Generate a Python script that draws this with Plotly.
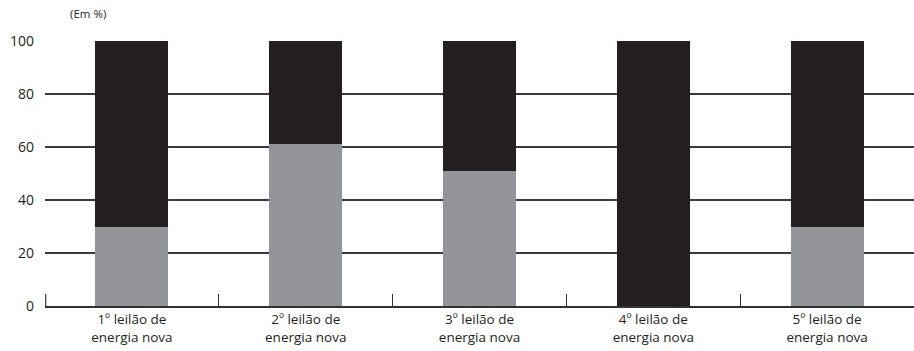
import plotly.graph_objects as go

categories = ["1º leilão de<br>energia nova", "2º leilão de<br>energia nova",
              "3º leilão de<br>energia nova", "4º leilão de<br>energia nova",
              "5º leilão de<br>energia nova"]
gray_vals = [30, 61, 51, 0, 30]
black_vals = [70, 39, 49, 100, 70]
y_ticks = [0, 20, 40, 60, 80, 100]

GRAY = "#939598"
BLACK = "#231f20"
TEXT = "#231f20"
FONT = "Open Sans"

fig = go.Figure()
fig.add_trace(go.Bar(x=categories, y=gray_vals, marker=dict(color=GRAY, line=dict(width=0)),
                     width=0.42, showlegend=False, hoverinfo="skip"))
fig.add_trace(go.Bar(x=categories, y=black_vals, marker=dict(color=BLACK, line=dict(width=0)),
                     width=0.42, showlegend=False, hoverinfo="skip"))

fig.update_layout(
    barmode="stack",
    width=914, height=351,
    margin=dict(l=45, r=0, t=41, b=45),
    plot_bgcolor="white", paper_bgcolor="white",
    font=dict(family=FONT, color=TEXT),
    xaxis=dict(
        range=[-0.5, 4.5], showgrid=False, showline=True, linecolor="#333333", linewidth=1.5,
        ticks="inside", ticklen=12, tickwidth=1.2, tickcolor="#333333", tickson="boundaries",
        tickfont=dict(size=13.5, family=FONT, color=TEXT), zeroline=False, fixedrange=True,
    ),
    yaxis=dict(
        range=[0, 100], tickvals=y_ticks, showgrid=True, gridcolor="#3a3a3a", gridwidth=1.5,
        showline=False, zeroline=False, ticks="", ticklabelstandoff=10,
        tickfont=dict(size=14, family=FONT, color=TEXT), fixedrange=True,
    ),
    shapes=[dict(type="line", xref="paper", yref="paper", x0=0.0008, x1=0.0008,
                 y0=0, y1=12 / 265, line=dict(color="#333333", width=1.2))],
    annotations=[dict(text="(Em %)", xref="paper", yref="paper", x=0.027, y=1.0, yshift=18,
                      xanchor="left", yanchor="bottom", showarrow=False,
                      font=dict(size=11.5, family=FONT, color=TEXT))],
)

fig.write_html("out.html")
